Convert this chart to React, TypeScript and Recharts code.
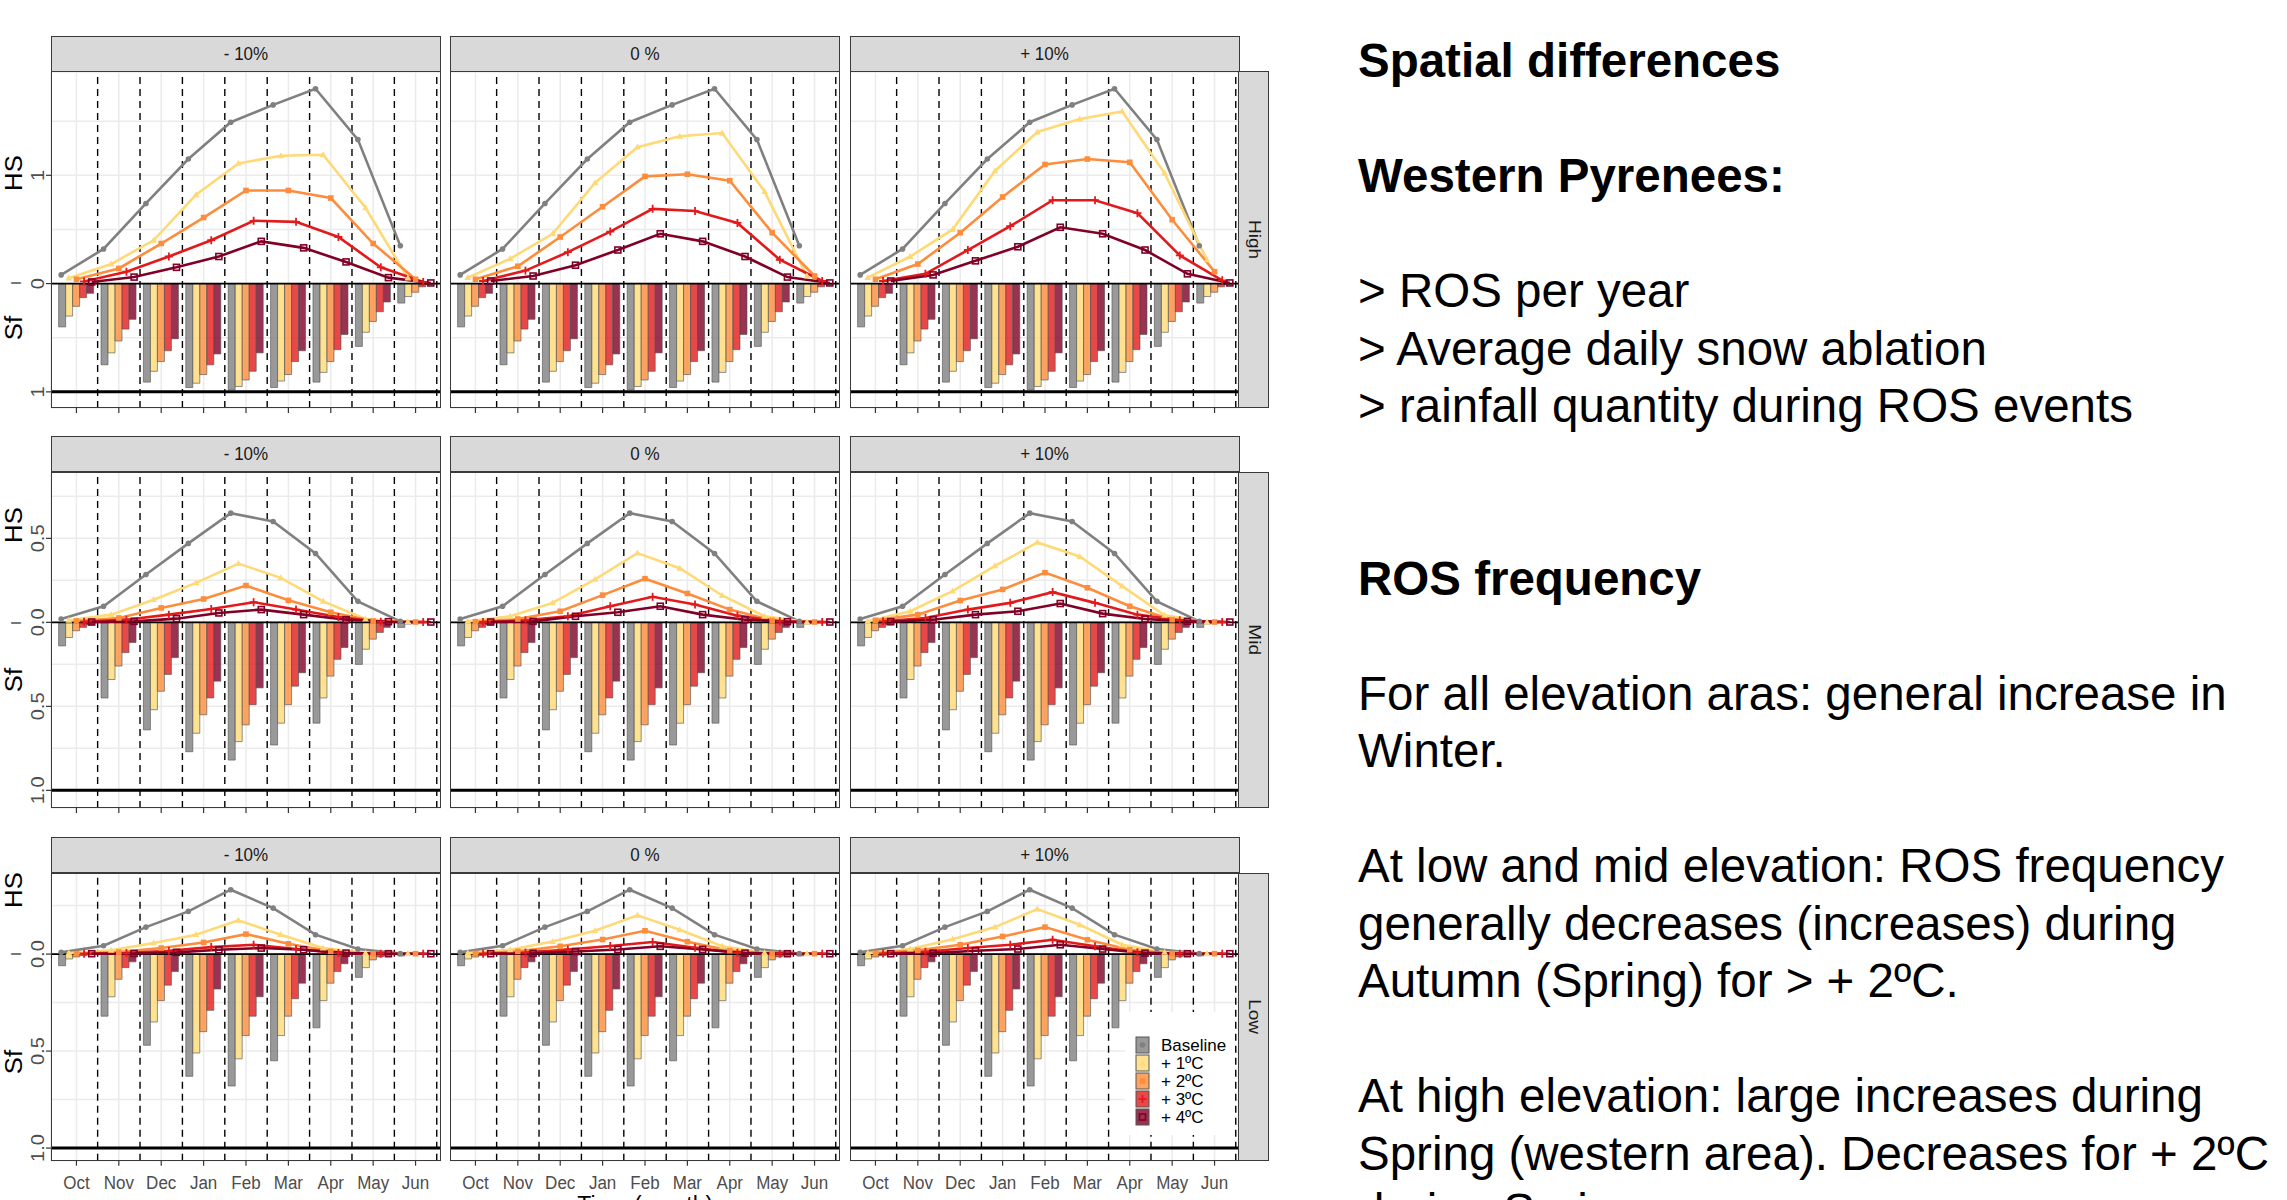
import React from 'react'
import {
  ComposedChart,
  Bar,
  Line,
  XAxis,
  YAxis,
  CartesianGrid,
  ReferenceLine,
} from 'recharts'

const MONTHS = ['Oct', 'Nov', 'Dec', 'Jan', 'Feb', 'Mar', 'Apr', 'May', 'Jun']
const SCENARIOS = ['Baseline', '+ 1ºC', '+ 2ºC', '+ 3ºC', '+ 4ºC']
const PRECIP = ['- 10%', '0 %', '+ 10%']
const ELEVATIONS = ['High', 'Mid', 'Low']
const COLORS = ['#808080', '#FED976', '#FD8D3C', '#E31A1C', '#800026']

// snowfall fraction (Sf), one list per scenario, same for every precipitation column
const SF_HIGH = [
  [0.40, 0.75, 0.91, 0.96, 0.98, 0.96, 0.91, 0.58, 0.18],
  [0.30, 0.64, 0.81, 0.92, 0.95, 0.90, 0.82, 0.45, 0.12],
  [0.21, 0.53, 0.72, 0.84, 0.89, 0.84, 0.72, 0.35, 0.08],
  [0.13, 0.42, 0.62, 0.75, 0.81, 0.72, 0.61, 0.26, 0.03],
  [0.09, 0.33, 0.51, 0.65, 0.64, 0.62, 0.47, 0.17, 0.01],
]
const SF_MID = [
  [0.14, 0.45, 0.64, 0.77, 0.82, 0.73, 0.60, 0.25, 0.03],
  [0.09, 0.34, 0.52, 0.66, 0.71, 0.60, 0.45, 0.16, 0.01],
  [0.05, 0.26, 0.41, 0.55, 0.61, 0.49, 0.32, 0.10, 0.005],
  [0.03, 0.18, 0.31, 0.45, 0.49, 0.38, 0.22, 0.06, 0],
  [0.015, 0.12, 0.21, 0.35, 0.39, 0.30, 0.15, 0.03, 0],
]
const SF_LOW = [
  [0.06, 0.32, 0.47, 0.63, 0.68, 0.55, 0.38, 0.12, 0.01],
  [0.025, 0.22, 0.35, 0.51, 0.54, 0.42, 0.24, 0.07, 0.003],
  [0.015, 0.13, 0.24, 0.40, 0.42, 0.32, 0.15, 0.03, 0.002],
  [0.008, 0.07, 0.16, 0.29, 0.32, 0.23, 0.09, 0.015, 0],
  [0.004, 0.04, 0.09, 0.18, 0.22, 0.15, 0.05, 0.007, 0],
]

// snow depth (HS)
const HS_HIGH_BASE = [0.08, 0.32, 0.74, 1.15, 1.49, 1.65, 1.80, 1.33, 0.35]
const HS_HIGH_M10 = [
  HS_HIGH_BASE,
  [0.05, 0.18, 0.40, 0.82, 1.11, 1.18, 1.19, 0.70, 0.05],
  [0.04, 0.14, 0.37, 0.61, 0.86, 0.86, 0.79, 0.37, 0.04],
  [0.02, 0.11, 0.25, 0.40, 0.58, 0.57, 0.43, 0.15, 0.015],
  [0.015, 0.06, 0.15, 0.25, 0.39, 0.33, 0.20, 0.055, 0.006],
]
const HS_HIGH_0 = [
  HS_HIGH_BASE,
  [0.055, 0.23, 0.46, 0.93, 1.26, 1.36, 1.39, 0.85, 0.07],
  [0.04, 0.16, 0.43, 0.71, 0.99, 1.01, 0.95, 0.47, 0.07],
  [0.024, 0.12, 0.29, 0.48, 0.69, 0.67, 0.56, 0.22, 0.024],
  [0.024, 0.07, 0.17, 0.31, 0.46, 0.39, 0.25, 0.06, 0.006],
]
const HS_HIGH_P10 = [
  HS_HIGH_BASE,
  [0.055, 0.25, 0.50, 1.04, 1.40, 1.52, 1.59, 1.02, 0.22],
  [0.04, 0.18, 0.47, 0.80, 1.10, 1.15, 1.12, 0.59, 0.11],
  [0.024, 0.09, 0.31, 0.53, 0.77, 0.77, 0.65, 0.26, 0.03],
  [0.024, 0.08, 0.21, 0.34, 0.52, 0.46, 0.31, 0.09, 0.006],
]

const HS_MID_BASE = [0.02, 0.096, 0.285, 0.47, 0.65, 0.60, 0.41, 0.125, 0.006]
const HS_MID_M10 = [
  HS_MID_BASE,
  [0.012, 0.046, 0.135, 0.235, 0.35, 0.265, 0.125, 0.02, 0.004],
  [0.008, 0.026, 0.086, 0.139, 0.219, 0.131, 0.06, 0.008, 0.002],
  [0.004, 0.016, 0.046, 0.08, 0.12, 0.076, 0.032, 0.004, 0.002],
  [0.002, 0.006, 0.022, 0.056, 0.076, 0.046, 0.016, 0.004, 0.002],
]
const HS_MID_0 = [
  HS_MID_BASE,
  [0.006, 0.036, 0.116, 0.256, 0.412, 0.322, 0.16, 0.036, 0.002],
  [0.004, 0.02, 0.066, 0.162, 0.26, 0.172, 0.076, 0.012, 0.002],
  [0.002, 0.012, 0.036, 0.096, 0.152, 0.106, 0.04, 0.006, 0.002],
  [0.002, 0.006, 0.036, 0.06, 0.096, 0.046, 0.016, 0.004, 0.002],
]
const HS_MID_P10 = [
  HS_MID_BASE,
  [0.006, 0.066, 0.186, 0.336, 0.476, 0.392, 0.216, 0.042, 0.002],
  [0.012, 0.046, 0.13, 0.196, 0.296, 0.206, 0.096, 0.016, 0.002],
  [0.006, 0.026, 0.076, 0.116, 0.18, 0.116, 0.046, 0.012, 0.002],
  [0.004, 0.016, 0.046, 0.066, 0.112, 0.052, 0.02, 0.006, 0.002],
]

const HS_LOW_BASE = [0.009, 0.043, 0.139, 0.22, 0.332, 0.237, 0.10, 0.026, 0.003]
const HS_LOW_M10 = [
  HS_LOW_BASE,
  [0.005, 0.019, 0.057, 0.10, 0.174, 0.10, 0.031, 0.005, 0.002],
  [0.003, 0.01, 0.031, 0.06, 0.103, 0.053, 0.014, 0.002, 0.002],
  [0.002, 0.005, 0.017, 0.036, 0.048, 0.026, 0.005, 0.002, 0.002],
  [0.002, 0.003, 0.009, 0.022, 0.031, 0.022, 0.005, 0.002, 0.002],
]
const HS_LOW_0 = [
  HS_LOW_BASE,
  [0.005, 0.022, 0.065, 0.12, 0.20, 0.125, 0.04, 0.007, 0.002],
  [0.004, 0.014, 0.04, 0.075, 0.12, 0.064, 0.018, 0.003, 0.002],
  [0.002, 0.008, 0.024, 0.042, 0.062, 0.033, 0.007, 0.002, 0.002],
  [0.002, 0.004, 0.013, 0.024, 0.04, 0.024, 0.005, 0.002, 0.002],
]
const HS_LOW_P10 = [
  HS_LOW_BASE,
  [0.005, 0.026, 0.077, 0.139, 0.232, 0.151, 0.048, 0.009, 0.002],
  [0.005, 0.019, 0.048, 0.091, 0.139, 0.074, 0.022, 0.003, 0.002],
  [0.003, 0.012, 0.031, 0.048, 0.074, 0.04, 0.009, 0.002, 0.002],
  [0.002, 0.005, 0.017, 0.026, 0.048, 0.026, 0.005, 0.002, 0.002],
]

const SF_BY_ROW = [SF_HIGH, SF_MID, SF_LOW]
const HS_BY_ROW = [
  [HS_HIGH_M10, HS_HIGH_0, HS_HIGH_P10],
  [HS_MID_M10, HS_MID_0, HS_MID_P10],
  [HS_LOW_M10, HS_LOW_0, HS_LOW_P10],
]

const TEXT_LINES: [string, boolean][] = [
  ['Spatial differences', true],
  ['', false],
  ['Western Pyrenees:', true],
  ['', false],
  ['> ROS per year', false],
  ['> Average daily snow ablation', false],
  ['> rainfall quantity during ROS events', false],
  ['', false],
  ['', false],
  ['ROS frequency', true],
  ['', false],
  ['For all elevation aras: general increase in', false],
  ['Winter.', false],
  ['', false],
  ['At low and mid elevation: ROS frequency', false],
  ['generally decreases (increases) during', false],
  ['Autumn (Spring) for > + 2ºC.', false],
  ['', false],
  ['At high elevation: large increases during', false],
  ['Spring (western area). Decreases for + 2ºC', false],
  ['during Spring.', false],
]

// layout
const FONT = '"Liberation Sans", Arial, sans-serif'
const COL_LEFT = [51, 450, 849.5]
const PLOT_W = 390
const Y_W = 51
const PAD = (PLOT_W * 0.1) / 9.2
const DODGE = 0.18
const ROWS = [
  { stripTop: 35.7, plotTop: 71.7, plotBottom: 407.7, domain: [-1.149, 1.954], ticks: [-1, -0.5, 0, 0.5, 1, 1.5], major: 1, digits: 0, hsY: 173, sfY: 328 },
  { stripTop: 435.7, plotTop: 472.3, plotBottom: 808.3, domain: [-1.105, 0.895], ticks: [-1, -0.75, -0.5, -0.25, 0, 0.25, 0.5, 0.75], major: 0.5, digits: 1, hsY: 525, sfY: 680 },
  { stripTop: 837, plotTop: 873.3, plotBottom: 1161, domain: [-1.065, 0.418], ticks: [-1, -0.75, -0.5, -0.25, 0, 0.25], major: 0.5, digits: 1, hsY: 890, sfY: 1062 },
]
const RIGHT_STRIP_W = 31

function Marker({ s, cx, cy, color }: { s: number; cx: number; cy: number; color: string }) {
  if (s === 0) return <circle cx={cx} cy={cy} r={2.8} fill={color} />
  if (s === 1)
    return <polygon points={`${cx},${cy - 3.6} ${cx - 3.4},${cy + 2.4} ${cx + 3.4},${cy + 2.4}`} fill={color} />
  if (s === 2) return <rect x={cx - 2.8} y={cy - 2.8} width={5.6} height={5.6} fill={color} />
  if (s === 3)
    return (
      <g stroke={color} strokeWidth={1.8}>
        <line x1={cx - 4} x2={cx + 4} y1={cy} y2={cy} />
        <line x1={cx} x2={cx} y1={cy - 4} y2={cy + 4} />
      </g>
    )
  return <rect x={cx - 3} y={cy - 3} width={6} height={6} fill="none" stroke={color} strokeWidth={1.6} />
}

function RotText({ x, y, size, color, children }: { x: number; y: number; size: number; color: string; children: React.ReactNode }) {
  return (
    <div
      style={{
        position: 'absolute',
        left: x,
        top: y,
        transform: 'translate(-50%, -50%) rotate(-90deg) scaleX(1.12)',
        fontSize: size,
        lineHeight: 1,
        color,
        whiteSpace: 'nowrap',
      }}
    >
      {children}
    </div>
  )
}

function Panel({ r, c }: { r: number; c: number }) {
  const row = ROWS[r]
  const plotH = row.plotBottom - row.plotTop
  const isBottom = r === ROWS.length - 1
  const xH = isBottom ? 34 : 8
  const yW = c === 0 ? Y_W : 0
  const sf = SF_BY_ROW[r]
  const hs = HS_BY_ROW[r][c]

  const barRows = MONTHS.map((m, i) => {
    const o: Record<string, number | string> = { month: m }
    sf.forEach((vals, s) => {
      o[`s${s}`] = -vals[i]
    })
    return o
  })

  const isMajor = (v: number) => Math.abs(v / row.major - Math.round(v / row.major)) < 1e-6

  // eslint-disable-next-line @typescript-eslint/no-explicit-any
  const yTick = (p: any) => {
    const v = p.payload.value as number
    if (!isMajor(v)) return <g />
    return (
      <g>
        <line x1={Y_W - 5} x2={Y_W} y1={p.y} y2={p.y} stroke="#333" strokeWidth={1.2} />
        <text
          transform={`translate(${Y_W - 13},${p.y}) rotate(-90) scale(1.12,1)`}
          textAnchor="middle"
          dominantBaseline="central"
          fill="#4D4D4D"
          fontSize={18}
          fontFamily={FONT}
        >
          {Math.abs(v).toFixed(row.digits)}
        </text>
      </g>
    )
  }

  // eslint-disable-next-line @typescript-eslint/no-explicit-any
  const xTick = (p: any) => (
    <g>
      <line x1={p.x} x2={p.x} y1={plotH} y2={plotH + 5} stroke="#333" strokeWidth={1.2} />
      {isBottom && (
        <text
          transform={`translate(${p.x},${plotH + 22}) scale(1,1.12)`}
          textAnchor="middle"
          dominantBaseline="central"
          fill="#4D4D4D"
          fontSize={17}
          fontFamily={FONT}
        >
          {p.payload.value}
        </text>
      )}
    </g>
  )

  return (
    <div style={{ position: 'absolute', left: COL_LEFT[c] - yW, top: row.plotTop }}>
      <ComposedChart
        width={yW + PLOT_W}
        height={plotH + xH}
        data={barRows}
        margin={{ top: 0, right: 0, bottom: 0, left: 0 }}
        barCategoryGap="8%"
        barGap={0}
      >
        <CartesianGrid xAxisId="n" stroke="#EBEBEB" strokeWidth={1.5} />
        <XAxis
          xAxisId="c"
          dataKey="month"
          type="category"
          padding={{ left: PAD, right: PAD }}
          height={xH}
          interval={0}
          tickLine={false}
          axisLine={false}
          tick={xTick}
        />
        <XAxis
          xAxisId="n"
          dataKey="x"
          type="number"
          domain={[0.5, MONTHS.length + 0.5]}
          ticks={MONTHS.map((_, i) => i + 1)}
          padding={{ left: PAD, right: PAD }}
          allowDataOverflow
          hide
        />
        <YAxis
          type="number"
          domain={row.domain}
          ticks={row.ticks}
          allowDataOverflow
          width={yW}
          hide={c !== 0}
          tickLine={false}
          axisLine={false}
          tick={yTick}
          interval={0}
        />
        {MONTHS.map((_, i) => (
          <ReferenceLine
            key={`v${i}`}
            xAxisId="n"
            x={i + 1.5}
            stroke="#000"
            strokeWidth={1.4}
            strokeDasharray="7 5"
          />
        ))}
        {sf.map((_, s) => (
          <Bar
            key={`b${s}`}
            xAxisId="c"
            dataKey={`s${s}`}
            fill={COLORS[s]}
            fillOpacity={0.8}
            stroke="#555"
            strokeOpacity={0.8}
            strokeWidth={0.8}
            isAnimationActive={false}
          />
        ))}
        <ReferenceLine xAxisId="n" y={0} stroke="#000" strokeWidth={1.6} />
        <ReferenceLine xAxisId="n" y={-1} stroke="#000" strokeWidth={3} />
        {hs.map((vals, s) => (
          <Line
            key={`l${s}`}
            xAxisId="n"
            type="linear"
            data={MONTHS.map((_, i) => ({ x: i + 1 + (s - 2) * DODGE, hs: vals[i] }))}
            dataKey="hs"
            stroke={COLORS[s]}
            strokeWidth={2.6}
            // eslint-disable-next-line @typescript-eslint/no-explicit-any
            dot={(p: any) => (
              <g key={`d${s}-${p.index}`}>
                <Marker s={s} cx={p.cx} cy={p.cy} color={COLORS[s]} />
              </g>
            )}
            activeDot={false}
            isAnimationActive={false}
          />
        ))}
      </ComposedChart>
    </div>
  )
}

function Legend() {
  return (
    <svg
      width={110}
      height={123}
      style={{ position: 'absolute', left: 1125, top: 1012, background: '#fff' }}
    >
      {SCENARIOS.map((name, s) => {
        const cy = 33 + s * 18
        return (
          <g key={name}>
            <rect x={11} y={cy - 8} width={13} height={16} fill={COLORS[s]} fillOpacity={0.8} stroke="#555" strokeWidth={1} />
            <Marker s={s} cx={17.5} cy={cy} color={COLORS[s]} />
            <text x={36} y={cy} dominantBaseline="central" fontSize={17} fontFamily={FONT} fill="#000">
              {name}
            </text>
          </g>
        )
      })}
    </svg>
  )
}

export default function App() {
  const box = { position: 'absolute' as const, boxSizing: 'border-box' as const }
  return (
    <div
      style={{
        position: 'absolute',
        left: 0,
        top: 0,
        width: 2287,
        height: 1200,
        overflow: 'hidden',
        background: '#fff',
        fontFamily: FONT,
      }}
    >
      {ROWS.map((row, r) => (
        <React.Fragment key={`r${r}`}>
          {PRECIP.map((p, c) => (
            <React.Fragment key={`p${r}${c}`}>
              <Panel r={r} c={c} />
              <div
                style={{
                  ...box,
                  left: COL_LEFT[c],
                  top: row.stripTop,
                  width: PLOT_W,
                  height: row.plotTop - row.stripTop,
                  background: '#D9D9D9',
                  border: '1.5px solid #3a3a3a',
                  display: 'flex',
                  alignItems: 'center',
                  justifyContent: 'center',
                  color: '#1A1A1A',
                  fontSize: 17,
                }}
              >
                <span style={{ display: 'inline-block', transform: 'scaleY(1.12)' }}>{p}</span>
              </div>
              <div
                style={{
                  ...box,
                  left: COL_LEFT[c],
                  top: row.plotTop - 0.75,
                  width: PLOT_W,
                  height: row.plotBottom - row.plotTop + 0.75,
                  border: '1.5px solid #3a3a3a',
                  pointerEvents: 'none',
                }}
              />
            </React.Fragment>
          ))}
          <div
            style={{
              ...box,
              left: COL_LEFT[2] + PLOT_W - 1.5,
              top: row.plotTop - 0.75,
              width: RIGHT_STRIP_W,
              height: row.plotBottom - row.plotTop + 0.75,
              background: '#D9D9D9',
              border: '1.5px solid #3a3a3a',
              display: 'flex',
              alignItems: 'center',
              justifyContent: 'center',
              color: '#1A1A1A',
              fontSize: 17,
            }}
          >
            <span style={{ writingMode: 'vertical-rl', transform: 'scaleY(1.12)' }}>{ELEVATIONS[r]}</span>
          </div>
          <RotText x={13.5} y={row.hsY} size={23} color="#000">HS</RotText>
          <RotText x={13.5} y={row.sfY} size={23} color="#000">Sf</RotText>
          <RotText
            x={15}
            y={row.plotTop + ((row.domain[1]) / (row.domain[1] - row.domain[0])) * (row.plotBottom - row.plotTop)}
            size={11}
            color="#000"
          >
            |
          </RotText>
        </React.Fragment>
      ))}
      <Legend />
      <div
        style={{
          position: 'absolute',
          left: (COL_LEFT[0] + COL_LEFT[2] + PLOT_W) / 2,
          top: 1194,
          transform: 'translateX(-50%)',
          fontSize: 23,
          lineHeight: '23px',
          whiteSpace: 'nowrap',
        }}
      >
        Time (month)
      </div>
      <div
        style={{
          position: 'absolute',
          left: 1358,
          top: 32.25,
          fontSize: 47.5,
          lineHeight: '57.5px',
          color: '#000',
          whiteSpace: 'pre',
        }}
      >
        {TEXT_LINES.map(([t, bold], i) => (
          <div key={i} style={{ fontWeight: bold ? 700 : 400, height: 57.5 }}>
            {t || ' '}
          </div>
        ))}
      </div>
    </div>
  )
}
